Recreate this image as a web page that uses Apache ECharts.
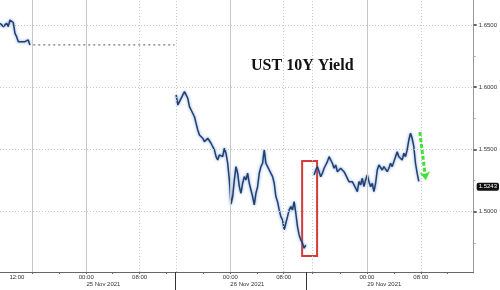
<!DOCTYPE html>
<html>
<head>
<meta charset="utf-8">
<script src="https://cdn.jsdelivr.net/npm/echarts@6/dist/echarts.min.js"></script>
<style>
html,body{margin:0;padding:0;background:#fff;}
#c{width:500px;height:290px;}
</style>
</head>
<body>
<div id="c"></div>
<script>
// x axis unit: compressed trading-time slot index (0..285)
const xMin = 0, xMax = 285;
const yMin = 1.4515, yMax = 1.6701;

// UST 10Y yield segments (start slot + values)
const seg1Start = 0;
const seg1 = [1.6514,1.6500,1.6487,1.6474,1.6514,1.6487,1.6540,1.6554,1.6520,1.6433,1.6406,1.6366,1.6353,1.6366,1.6353,1.6366,1.6353,1.6380,1.6340];

const holidayX = [20, 105];
const holidayY = [1.6340, 1.6340];

const seg2Start = 106;
const seg2 = [1.5938,1.5857,1.5884,1.5911,1.5938,1.5964,1.5938,1.5911,1.5844,1.5817,
  1.5803,1.5763,1.5710,1.5656,1.5616,1.5630,1.5590,1.5562,1.5576,1.5590,
  1.5576,1.5550,1.5522,1.5496,1.5442,1.5415,1.5456,1.5469,1.5442,
  1.5510,1.5469,1.5389,1.5255,1.5060,
  1.5121,1.5255,1.5362,1.5309,1.5201,1.5148,1.5228,1.5281,1.5255,1.5309,
  1.5228,1.5174,1.5121,1.5054,1.5148,1.5201,1.5309,1.5362,1.5389,1.5496,
  1.5389,1.5362,1.5335,1.5349,1.5281,1.5228,1.5121,1.5080,1.5014,1.4960,
  1.4933,1.4853,1.4907,1.4960,1.5014,1.5040,1.5014,1.5080,1.4987,1.4880,
  1.4813,1.4773,1.4746,1.4706,1.4732];

const seg3Start = 189;
const seg3 = [1.5295,1.5335,1.5362,1.5321,1.5281,1.5309,1.5349,1.5375,1.5402,1.5442,
  1.5429,1.5389,1.5349,1.5375,1.5321,1.5309,1.5349,1.5362,1.5321,1.5295,
  1.5268,1.5241,1.5228,1.5241,1.5215,1.5188,1.5161,
  1.5241,1.5215,1.5268,1.5201,1.5255,1.5295,1.5241,1.5201,1.5228,1.5161,
  1.5228,1.5335,1.5375,1.5362,1.5335,1.5362,1.5375,1.5321,1.5349,1.5389,
  1.5362,1.5402,1.5442,1.5482,1.5442,1.5456,1.5415,1.5469,1.5442,1.5496,
  1.5576,1.5630,1.5590,1.5522,1.5389,1.5309,1.5243];

const lastValue = 1.5243;

// axis labels
const timeLabels = ['12:00','00:00','08:00','00:00','08:00','00:00','08:00'];
const timeLabelPos = [10.2, 51.9, 84, 138.6, 170.7, 220.8, 253.2];
const dateLabels = ['25 Nov 2021','26 Nov 2021','29 Nov 2021'];
const dateLabelPos = [52, 138.6, 221];
const timeTickPos = [19.2, 35.4, 51.9, 67.8, 84, 100.2, 122.4, 138.6, 154.8, 170.7, 187.8, 204.6, 220.8, 237, 253.2, 269.4];
const sessionBreakPos = [105.6, 184.4];
const daySolidPos = [19.2, 51.9, 138.6, 220.8];
const dottedVPos = [84, 106.2, 170.7, 187.8, 253.2];
const yTickValues = [1.50, 1.55, 1.60, 1.65];
const yMinorValues = [1.475, 1.525, 1.575, 1.625];

// annotations
const boxX = [181.8, 190.8];
const boxY = [1.4644, 1.5407];
const arrowX = [252.6, 256.2];
const arrowY = [1.5640, 1.5255];

function toPairs(start, arr){ return arr.map((v,i)=>[start+i, v]); }

const lineStyle = {color:'#22406f', width:1.5, shadowColor:'rgba(90,140,210,0.9)', shadowBlur:3};

const chart = echarts.init(document.getElementById('c'), null, {renderer:'canvas'});
const gridLines = [];
yTickValues.forEach(v=>gridLines.push({yAxis:v, lineStyle:{color:'#c4c4c4', type:[1,2], width:1}}));
daySolidPos.forEach(v=>gridLines.push({xAxis:v, lineStyle:{color:'#c8c8c8', type:'solid', width:1}}));
dottedVPos.forEach(v=>gridLines.push({xAxis:v, lineStyle:{color:'#c8c8c8', type:[1,2], width:1}}));

chart.setOption({
  animation:false,
  backgroundColor:'#ffffff',
  title:{text:'UST 10Y Yield', left:246, top:53, textStyle:{fontFamily:'Liberation Serif', fontWeight:'bold', fontSize:16, color:'#111'}},
  grid:{left:0, right:25, top:0, bottom:18, containLabel:false},
  xAxis:[
    {type:'value', min:xMin, max:xMax, position:'bottom',
     axisLine:{show:true, onZero:false, lineStyle:{color:'#666', width:1}},
     axisTick:{show:true, customValues:timeTickPos, length:2, lineStyle:{color:'#666'}},
     axisLabel:{show:true, customValues:timeLabelPos, margin:2, fontSize:6, color:'#333', fontFamily:'Liberation Sans',
       formatter:(v)=>{const i=timeLabelPos.findIndex(p=>Math.abs(p-v)<0.01); return i>=0?timeLabels[i]:'';}},
     splitLine:{show:false}},
    {type:'value', min:xMin, max:xMax, position:'bottom',
     axisLine:{show:false, onZero:false}, axisTick:{show:false}, splitLine:{show:false},
     axisLabel:{show:true, customValues:dateLabelPos, margin:9, fontSize:6, color:'#333', align:'left', fontFamily:'Liberation Sans',
       formatter:(v)=>{const i=dateLabelPos.findIndex(p=>Math.abs(p-v)<0.01); return i>=0?dateLabels[i]:'';}}},
    {type:'value', min:xMin, max:xMax, position:'bottom',
     axisLine:{show:false, onZero:false}, splitLine:{show:false}, axisLabel:{show:false},
     axisTick:{show:true, customValues:sessionBreakPos, length:18, lineStyle:{color:'#333', width:1}}}
  ],
  yAxis:[
    {type:'value', min:yMin, max:yMax, position:'right',
     axisLine:{show:true, onZero:false, lineStyle:{color:'#999', width:1}},
     axisTick:{show:true, customValues:yTickValues, length:3, lineStyle:{color:'#333', width:1.5}},
     axisLabel:{show:true, customValues:yTickValues, margin:5, fontSize:6, color:'#333', fontFamily:'Liberation Sans',
       formatter:(v)=>v.toFixed(4)},
     splitLine:{show:false}},
    {type:'value', min:yMin, max:yMax, position:'right',
     axisLine:{show:false, onZero:false}, axisLabel:{show:false}, splitLine:{show:false},
     axisTick:{show:true, customValues:yMinorValues, length:2, lineStyle:{color:'#aaa', width:1}}}
  ],
  series:[
    {name:'grid', type:'line', data:[[xMin, null]], z:0, silent:true, showSymbol:false,
     markLine:{silent:true, symbol:['none','none'], label:{show:false}, data:gridLines}},
    {name:'holiday', type:'line', data:holidayX.map((x,i)=>[x, holidayY[i]]), showSymbol:false, z:1,
     lineStyle:{color:'#555', width:1, type:[2,3]}},
    {name:'seg1', type:'line', data:toPairs(seg1Start, seg1), showSymbol:false, z:3, lineStyle:lineStyle},
    {name:'seg2', type:'line', data:toPairs(seg2Start, seg2), showSymbol:false, z:3, lineStyle:lineStyle,
     markArea:{silent:true, itemStyle:{color:'rgba(0,0,0,0)', borderColor:'#d43a36', borderWidth:2},
       data:[[{coord:[boxX[0], boxY[1]]},{coord:[boxX[1], boxY[0]]}]]}},
    {name:'seg3', type:'line', data:toPairs(seg3Start, seg3), showSymbol:false, z:3, lineStyle:lineStyle,
     markLine:{silent:true, symbol:['none','none'], label:{show:false},
       lineStyle:{color:'#3fe03a', width:3, type:[4,2]},
       data:[
         [{coord:[arrowX[0], arrowY[0]], symbol:'none'},
          {coord:[arrowX[1], arrowY[1]], symbol:'arrow', symbolSize:8}]
       ]}},
    {name:'last', type:'line', data:[[xMin, null]], z:4, silent:true, showSymbol:false,
     markLine:{silent:true, symbol:['none','none'],
       data:[
         {yAxis:lastValue, lineStyle:{color:'rgba(0,0,0,0)', width:1},
          label:{show:true, position:'end', distance:3, formatter:lastValue.toFixed(4), color:'#fff', backgroundColor:'#111',
                 fontSize:6, fontFamily:'Liberation Sans', padding:[1,2,1,2], borderRadius:2}}
       ]
     }}
  ]
});
</script>
</body>
</html>
